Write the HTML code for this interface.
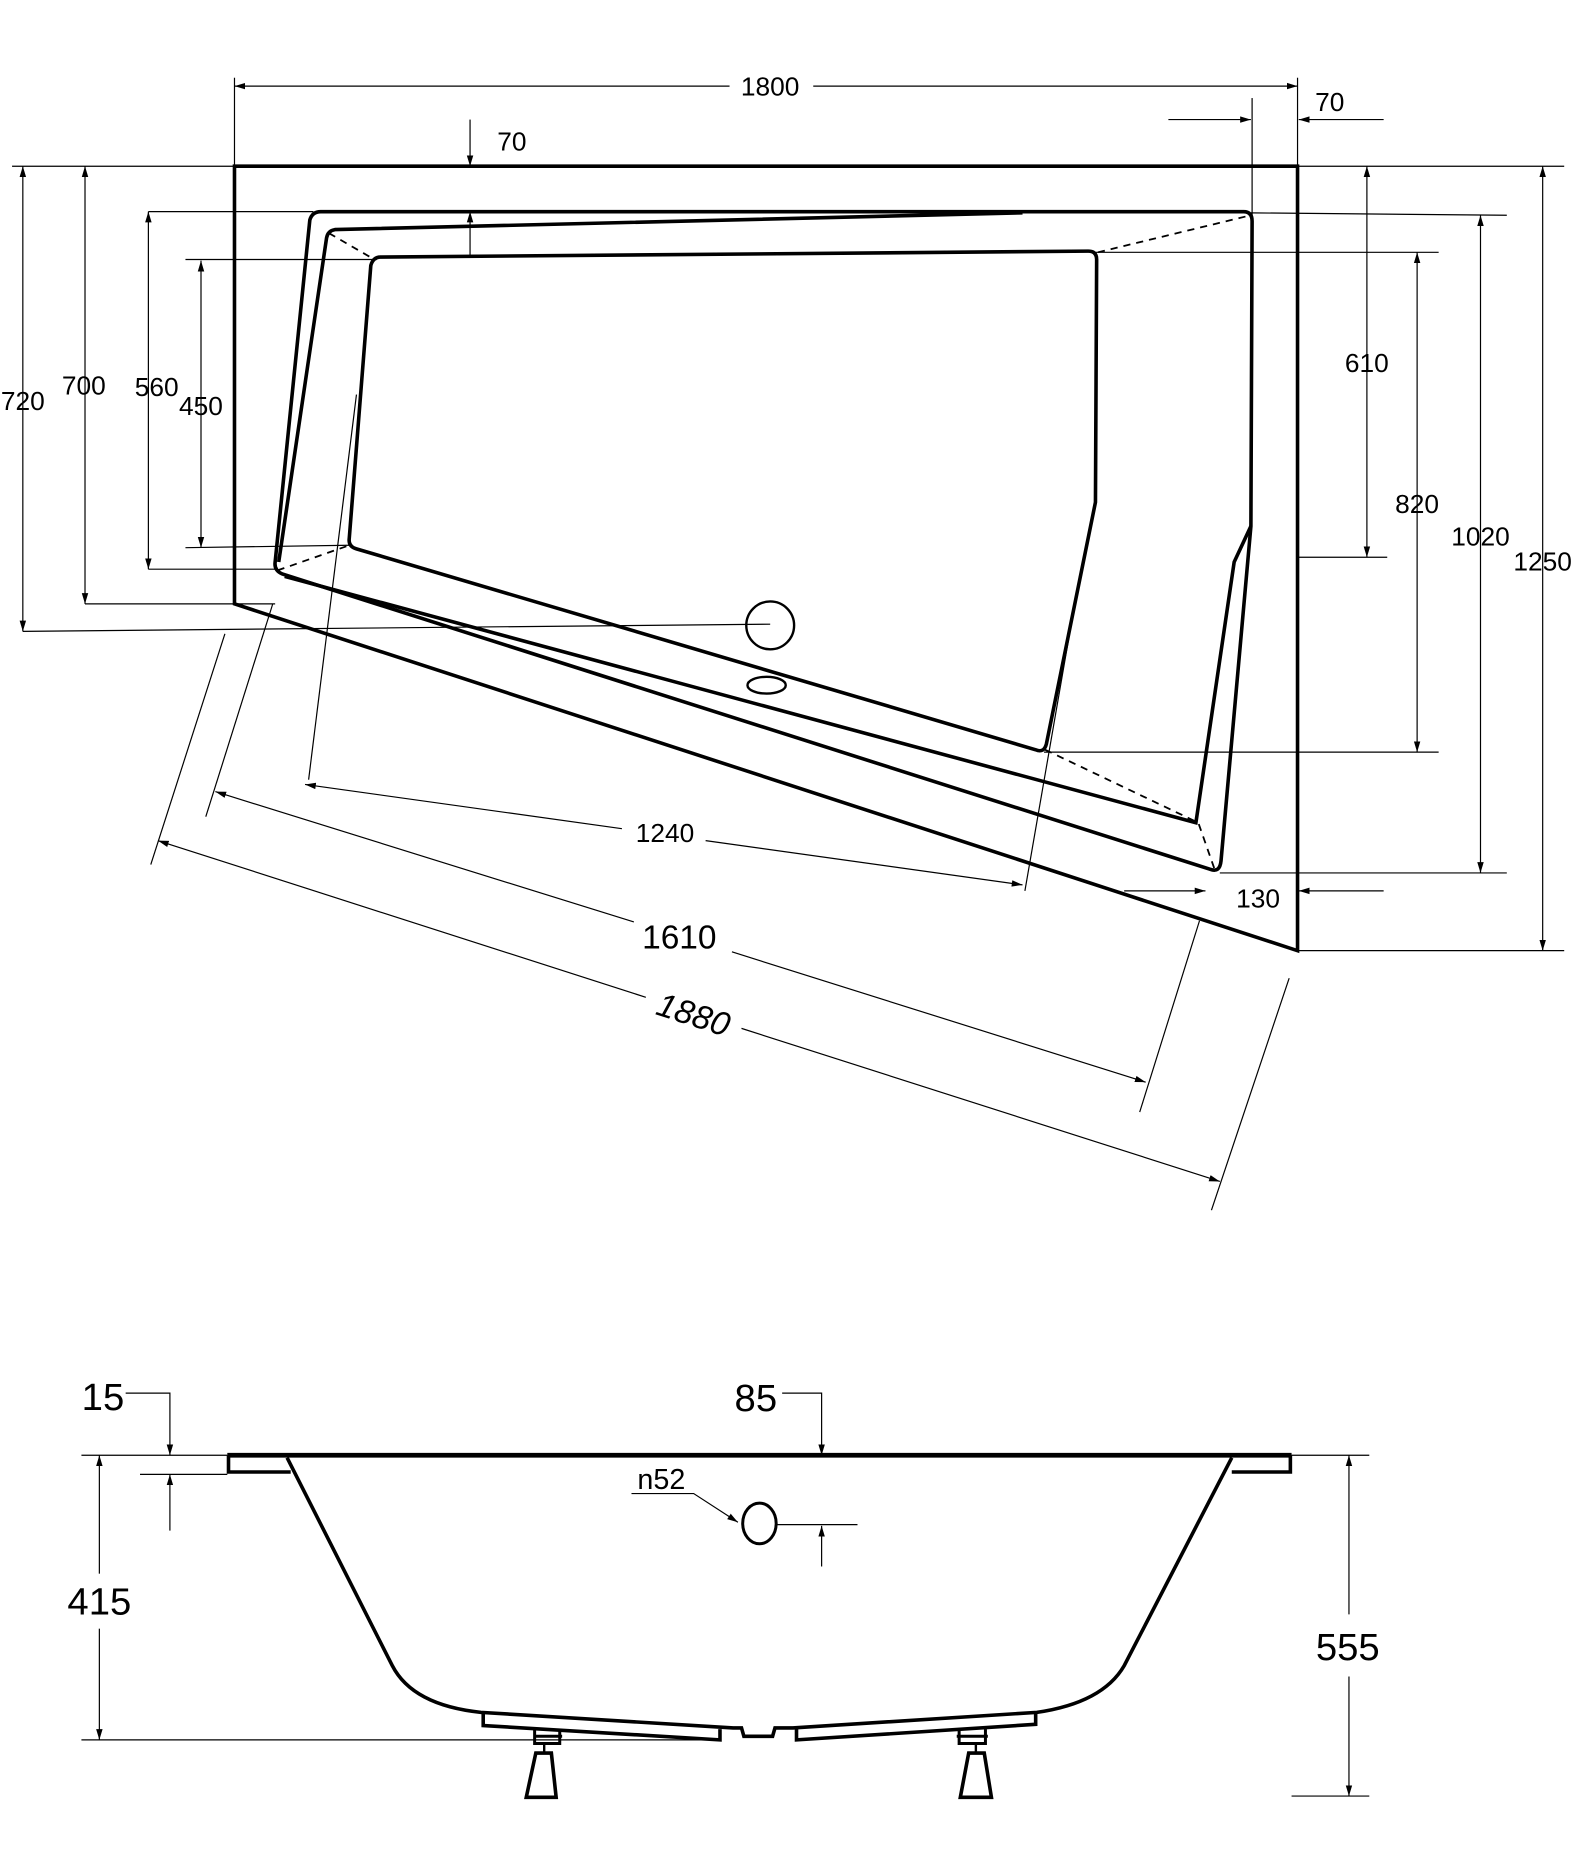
<!DOCTYPE html>
<html><head><meta charset="utf-8"><style>html,body{margin:0;padding:0;background:#fff}svg{display:block}</style></head>
<body>
<svg width="1596" height="1875" viewBox="0 0 1334.5 1568" xmlns="http://www.w3.org/2000/svg" font-family="Liberation Sans, sans-serif">
<defs>
<marker id="a" viewBox="0 0 10 10" refX="10" refY="5" markerWidth="9" markerHeight="9" orient="auto-start-reverse" markerUnits="userSpaceOnUse"><path d="M0,2 L10,5 L0,8 Z" fill="#000"/></marker>
</defs>
<g fill="none" stroke="#000">
<path d="M196,139 L1085,139 L1085,795 L196,505 Z" stroke-width="3"/>
<path d="M268,177 L1040,177 Q1047,177 1047,185 L1046,440 L1021,720 Q1020,730 1012,727 L236,480 Q229,477 230,470 L259,184 Q261,177 268,177 Z" stroke-width="3"/>
<path d="M855,178 L280,192 Q274,193 273,199 L233,470 M238,482 L1000,688 L1032,470 L1046,440" stroke-width="3"/>
<path d="M318,215 L910,210 Q917,210 917,217 L916,420 L875,622 Q873,630 866,627 L298,459 Q291,457 292,450 L310,222 Q312,215 318,215 Z" stroke-width="3"/>
<g stroke-width="1.5" stroke-dasharray="6,5">
<path d="M275,195 L313,217 M918,211 L1046,180 M232,477 L292,456 M874,627 L1002,688 L1016,728"/>
</g>
<circle cx="644" cy="523" r="20" stroke-width="2"/>
<ellipse cx="641" cy="573" rx="16" ry="7" stroke-width="2"/>

<g stroke-width="1">
<line x1="196" y1="72" x2="610" y2="72" marker-start="url(#a)"/>
<line x1="680" y1="72" x2="1085" y2="72" marker-end="url(#a)"/>
<line x1="196" y1="65" x2="196" y2="139"/><line x1="1085" y1="65" x2="1085" y2="139"/>
<line x1="977" y1="100" x2="1046" y2="100" marker-end="url(#a)"/>
<line x1="1157" y1="100" x2="1086" y2="100" marker-end="url(#a)"/>
<line x1="1047" y1="82" x2="1047" y2="180"/>
<line x1="393" y1="100" x2="393" y2="139" marker-end="url(#a)"/>
<line x1="393" y1="215" x2="393" y2="177" marker-end="url(#a)"/>
<line x1="19" y1="139" x2="19" y2="528" marker-start="url(#a)" marker-end="url(#a)"/>
<line x1="10" y1="139" x2="196" y2="139"/><line x1="19" y1="528" x2="644" y2="522"/>
<line x1="71" y1="139" x2="71" y2="505" marker-start="url(#a)" marker-end="url(#a)"/>
<line x1="71" y1="505" x2="230" y2="505"/>
<line x1="124" y1="177" x2="124" y2="476" marker-start="url(#a)" marker-end="url(#a)"/>
<line x1="124" y1="177" x2="262" y2="177"/><line x1="124" y1="476" x2="232" y2="476"/>
<line x1="168" y1="218" x2="168" y2="458" marker-start="url(#a)" marker-end="url(#a)"/>
<line x1="155" y1="217" x2="315" y2="217"/><line x1="155" y1="458" x2="292" y2="456"/>
<line x1="1143" y1="139" x2="1143" y2="466" marker-start="url(#a)" marker-end="url(#a)"/>
<line x1="1085" y1="466" x2="1160" y2="466"/><line x1="1085" y1="139" x2="1308" y2="139"/>
<line x1="1185" y1="211" x2="1185" y2="629" marker-start="url(#a)" marker-end="url(#a)"/>
<line x1="916" y1="211" x2="1203" y2="211"/><line x1="873" y1="629" x2="1203" y2="629"/>
<line x1="1238" y1="180" x2="1238" y2="730" marker-start="url(#a)" marker-end="url(#a)"/>
<line x1="1046" y1="178" x2="1260" y2="180"/><line x1="1020" y1="730" x2="1260" y2="730"/>
<line x1="1290" y1="139" x2="1290" y2="795" marker-start="url(#a)" marker-end="url(#a)"/>
<line x1="1085" y1="795" x2="1308" y2="795"/>
<line x1="940" y1="745" x2="1008" y2="745" marker-end="url(#a)"/>
<line x1="1157" y1="745" x2="1086" y2="745" marker-end="url(#a)"/>
<line x1="255" y1="656" x2="520" y2="693" marker-start="url(#a)"/>
<line x1="590" y1="703" x2="855" y2="740" marker-end="url(#a)"/>
<line x1="298" y1="330" x2="258" y2="652"/><line x1="903" y1="480" x2="857" y2="745"/>
<line x1="180" y1="662" x2="530" y2="771" marker-start="url(#a)"/>
<line x1="612" y1="796" x2="958" y2="905" marker-end="url(#a)"/>
<line x1="228" y1="505" x2="172" y2="683"/><line x1="1003" y1="770" x2="953" y2="930"/>
<line x1="132" y1="703" x2="540" y2="834" marker-start="url(#a)"/>
<line x1="620" y1="860" x2="1020" y2="988" marker-end="url(#a)"/>
<line x1="188" y1="530" x2="126" y2="723"/><line x1="1078" y1="818" x2="1013" y2="1012"/>
</g>

<line x1="190" y1="1217" x2="1080" y2="1217" stroke-width="4"/>
<path d="M191,1217 L191,1231 L243,1231 M1079,1217 L1079,1231 L1030,1231" stroke-width="3"/>
<path d="M240,1219 L328,1393 Q345,1426 402,1432 L613,1445 L620,1445 L622,1452 L646,1452 L648,1445 L663,1445 L867,1432 Q922,1424 940,1393 L1030,1219" stroke-width="3"/>
<path d="M404,1433 L404,1443 L602,1455 L602,1446 M866,1432 L866,1442 L666,1455 L666,1446" stroke-width="3"/>
<path d="M447,1446 L447,1458 L468,1458 L468,1446 M446,1452 L470,1452 M802,1446 L802,1458 L824,1458 L824,1446 M800,1452 L826,1452" stroke-width="2.5"/>
<path d="M448,1466 L461,1466 L465,1503 L440,1503 Z M810,1466 L823,1466 L829,1503 L803,1503 Z" stroke-width="3"/>
<line x1="455" y1="1458" x2="455" y2="1466" stroke-width="2"/><line x1="816" y1="1458" x2="816" y2="1466" stroke-width="2"/>
<ellipse cx="635" cy="1274" rx="14" ry="17" stroke-width="2.5"/>
<g stroke-width="1">
<path d="M105,1165 L142,1165 L142,1217" marker-end="url(#a)"/>
<line x1="117" y1="1233" x2="190" y2="1233"/>
<line x1="142" y1="1280" x2="142" y2="1233" marker-end="url(#a)"/>
<path d="M654,1165 L687,1165 L687,1217" marker-end="url(#a)"/>
<path d="M528,1249 L580,1249 L617,1273" marker-end="url(#a)"/>
<line x1="650" y1="1275" x2="717" y2="1275"/>
<line x1="687" y1="1310" x2="687" y2="1276" marker-end="url(#a)"/>
<line x1="83" y1="1217" x2="83" y2="1316" marker-start="url(#a)"/>
<line x1="83" y1="1362" x2="83" y2="1455" marker-end="url(#a)"/>
<line x1="68" y1="1217" x2="190" y2="1217"/><line x1="68" y1="1455" x2="600" y2="1455"/>
<line x1="1128" y1="1217" x2="1128" y2="1350" marker-start="url(#a)"/>
<line x1="1128" y1="1402" x2="1128" y2="1502" marker-end="url(#a)"/>
<line x1="1080" y1="1217" x2="1145" y2="1217"/><line x1="1080" y1="1502" x2="1145" y2="1502"/>
</g>
</g>

<g fill="#000" font-size="22" text-anchor="middle">
<text x="644" y="80">1800</text>
<text x="1112" y="93">70</text>
<text x="428" y="126">70</text>
<text x="19" y="343">720</text>
<text x="70" y="330">700</text>
<text x="131" y="331">560</text>
<text x="168" y="347">450</text>
<text x="1143" y="311">610</text>
<text x="1185" y="429">820</text>
<text x="1238" y="456">1020</text>
<text x="1290" y="477">1250</text>
<text x="1052" y="759">130</text>
<text x="556" y="704">1240</text>
<text x="568" y="793" font-size="28">1610</text>
<text x="580" y="858" font-size="28" font-style="italic" transform="rotate(17.8 580 848)">1880</text>
<text x="86" y="1179" font-size="32">15</text>
<text x="632" y="1180" font-size="32">85</text>
<text x="553" y="1245" font-size="24">n52</text>
<text x="83" y="1350" font-size="32">415</text>
<text x="1127" y="1388" font-size="32">555</text>
</g>
</svg>
</body></html>
